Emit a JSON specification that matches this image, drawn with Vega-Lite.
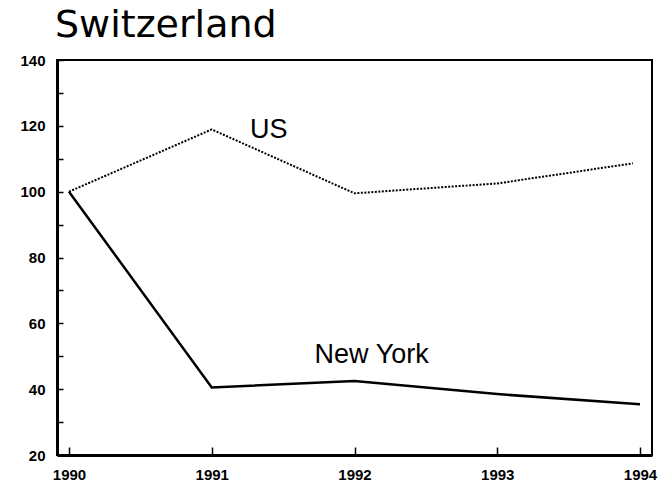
{
  "$schema": "https://vega.github.io/schema/vega-lite/v6.json",
  "autosize": "none",
  "width": 595,
  "height": 395,
  "padding": {"left": 57, "top": 60, "right": 7, "bottom": 27},
  "background": "white",
  "title": {
    "text": "Switzerland",
    "anchor": "start",
    "frame": "group",
    "font": "DejaVu Sans",
    "fontSize": 38,
    "fontWeight": "normal",
    "color": "black",
    "baseline": "alphabetic",
    "offset": 0,
    "dx": -2,
    "dy": 22
  },
  "config": {
    "view": {"stroke": "black", "strokeWidth": 2},
    "axis": {
      "domainColor": "black",
      "domainWidth": 3,
      "tickColor": "black",
      "tickWidth": 1.5,
      "labelFont": "Liberation Sans",
      "labelFontWeight": "bold",
      "labelFontSize": 15,
      "labelColor": "black",
      "grid": false,
      "title": null
    }
  },
  "resolve": {"axis": {"x": "independent", "y": "independent"}},
  "datasets": {
    "lines": [
      {"year": 1990, "value": 100, "series": "US"},
      {"year": 1991, "value": 118.9, "series": "US"},
      {"year": 1992, "value": 99.5, "series": "US"},
      {"year": 1993, "value": 102.5, "series": "US"},
      {"year": 1993.95, "value": 108.6, "series": "US"},
      {"year": 1990, "value": 100, "series": "New York"},
      {"year": 1991, "value": 40.5, "series": "New York"},
      {"year": 1992, "value": 42.5, "series": "New York"},
      {"year": 1993, "value": 38.5, "series": "New York"},
      {"year": 1994, "value": 35.4, "series": "New York"}
    ],
    "labels": [
      {"year": 1991.4, "value": 118.7, "label": "US"},
      {"year": 1992.12, "value": 50.5, "label": "New York"}
    ]
  },
  "layer": [
    {
      "data": {"name": "lines"},
      "transform": [{"filter": "datum.series === 'US'"}],
      "mark": {"type": "line", "color": "black", "strokeWidth": 2, "strokeDash": [2, 1.5]},
      "encoding": {
        "x": {
          "field": "year", "type": "quantitative",
          "scale": {"domain": [1989.916, 1994.084], "nice": false, "zero": false},
          "axis": {"values": [1990, 1991, 1992, 1993, 1994], "format": "d", "ticks": false, "labelPadding": 12, "labelFlush": false}
        },
        "y": {
          "field": "value", "type": "quantitative",
          "scale": {"domain": [20, 140], "nice": false, "zero": false},
          "axis": {"values": [20, 40, 60, 80, 100, 120, 140], "ticks": false, "labelPadding": 12}
        }
      }
    },
    {
      "data": {"name": "lines"},
      "transform": [{"filter": "datum.series === 'New York'"}],
      "mark": {"type": "line", "color": "black", "strokeWidth": 2.5},
      "encoding": {
        "x": {
          "field": "year", "type": "quantitative",
          "axis": {"orient": "top", "offset": -395, "values": [1990, 1991, 1992, 1993, 1994], "labels": false, "domain": false, "tickSize": 8}
        },
        "y": {
          "field": "value", "type": "quantitative",
          "axis": {"orient": "right", "offset": -595, "values": [20, 30, 40, 50, 60, 70, 80, 90, 100, 110, 120, 130, 140], "labels": false, "domain": false, "tickSize": 6}
        }
      }
    },
    {
      "data": {"name": "labels"},
      "mark": {"type": "text", "font": "Liberation Sans", "fontSize": 27, "color": "black", "align": "center", "baseline": "middle"},
      "encoding": {
        "x": {"field": "year", "type": "quantitative", "axis": null},
        "y": {"field": "value", "type": "quantitative", "axis": null},
        "text": {"field": "label"}
      }
    }
  ]
}
